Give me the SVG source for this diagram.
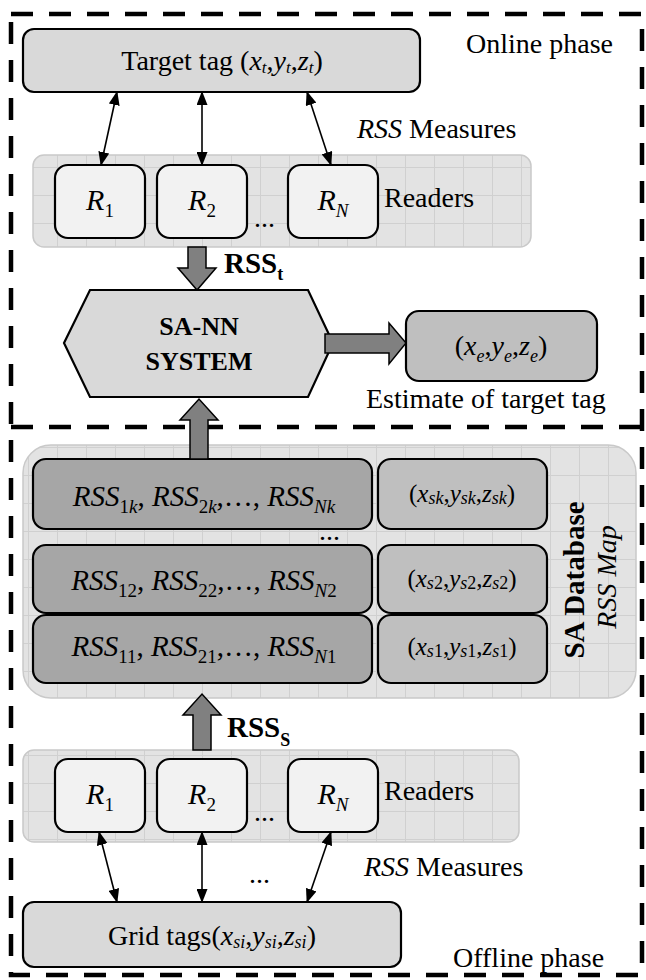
<svg xmlns="http://www.w3.org/2000/svg" width="646" height="980" viewBox="0 0 646 980" font-family="'Liberation Serif', 'Times New Roman', serif">
<style>
text{font-family:'Liberation Serif','Times New Roman',serif;fill:#000}
.lbl{font-size:28px}
.it{font-style:italic}
.b{font-weight:bold}
.box{stroke:#000;stroke-width:2.2}
.panel{fill:url(#grid);stroke:#c9c9c9;stroke-width:1.5}
.blk{fill:#808080;stroke:#000;stroke-width:1.5}
.thin{stroke:#000;stroke-width:1.6;fill:none;marker-start:url(#ah);marker-end:url(#ah)}
.frame{fill:none;stroke:#000;stroke-width:4.5;stroke-dasharray:22 16}
.rl{font-size:30px}
.row{font-size:29px}
.xy{font-size:25px}
</style>
<defs>
<pattern id="grid" x="0" y="0" width="29" height="28" patternUnits="userSpaceOnUse">
<rect width="29" height="28" fill="#e3e3e3"/>
<path d="M28.5 0V28M0 27.5H29" stroke="#d0d0d0" stroke-width="1"/>
</pattern>
<marker id="ah" viewBox="0 0 14 11" refX="13" refY="5.5" markerWidth="14" markerHeight="11" markerUnits="userSpaceOnUse" orient="auto-start-reverse">
<path d="M0 0L14 5.5L0 11z" fill="#000"/>
</marker>
</defs>

<g id="frame">
<rect class="frame" x="11" y="14" width="631" height="961"/>
<line class="frame" x1="11" y1="427" x2="642" y2="427"/>
<text class="lbl" x="466" y="53">Online phase</text>
<text class="lbl" x="453" y="967">Offline phase</text>
</g>

<g id="target-tag">
<rect class="box" x="23" y="29" width="397" height="63" rx="11" fill="#d9d9d9"/>
<text class="lbl" x="222" y="70" text-anchor="middle">Target tag (<tspan class="it">x</tspan><tspan class="it" font-size="17" dy="3">t</tspan><tspan dy="-3">,</tspan><tspan class="it">y</tspan><tspan class="it" font-size="17" dy="3">t</tspan><tspan dy="-3">,</tspan><tspan class="it">z</tspan><tspan class="it" font-size="17" dy="3">t</tspan><tspan dy="-3">)</tspan></text>
</g>

<g id="readers-online">
<rect class="panel" x="33" y="155" width="498" height="92" rx="11"/>
<g id="r1-on"><rect class="box" x="55" y="165" width="90" height="73" rx="13" fill="#f2f2f2"/>
<text class="rl" x="100" y="210" text-anchor="middle"><tspan class="it">R</tspan><tspan font-size="19" dy="7">1</tspan></text></g>
<g id="r2-on"><rect class="box" x="157" y="165" width="90" height="73" rx="13" fill="#f2f2f2"/>
<text class="rl" x="202" y="210" text-anchor="middle"><tspan class="it">R</tspan><tspan font-size="19" dy="7">2</tspan></text></g>
<text class="lbl" x="254" y="227">...</text>
<g id="rn-on"><rect class="box" x="288" y="165" width="90" height="73" rx="13" fill="#f2f2f2"/>
<text class="rl" x="333" y="210" text-anchor="middle"><tspan class="it">R</tspan><tspan class="it" font-size="19" dy="7">N</tspan></text></g>
<text class="lbl" x="384" y="207">Readers</text>
</g>

<g id="sann">
<polygon class="box" points="90,290 308,290 333,343 308,397 90,397 64,343" fill="#d9d9d9"/>
<text class="b" x="199" y="335" text-anchor="middle" font-size="26">SA-NN</text>
<text class="b" x="199" y="370" text-anchor="middle" font-size="26">SYSTEM</text>
</g>

<g id="estimate">
<rect class="box" x="406" y="311" width="191" height="70" rx="13" fill="#bfbfbf"/>
<text x="501" y="355" text-anchor="middle" font-size="28">(<tspan class="it">x</tspan><tspan class="it" font-size="18" dy="7">e</tspan><tspan dy="-7">,</tspan><tspan class="it">y</tspan><tspan class="it" font-size="18" dy="7">e</tspan><tspan dy="-7">,</tspan><tspan class="it">z</tspan><tspan class="it" font-size="18" dy="7">e</tspan><tspan dy="-7">)</tspan></text>
<text class="lbl" x="366" y="408">Estimate of target tag</text>
</g>

<g id="sa-database">
<rect class="panel" x="23" y="445" width="613" height="253" rx="28"/>
<g id="row-k">
<rect class="box" x="33" y="459" width="339" height="70" rx="13" fill="#a6a6a6"/>
<text class="row" x="204" y="506" text-anchor="middle"><tspan class="it">RSS</tspan><tspan font-size="19" dy="7">1<tspan class="it">k</tspan></tspan><tspan dy="-7">, </tspan><tspan class="it">RSS</tspan><tspan font-size="19" dy="7">2<tspan class="it">k</tspan></tspan><tspan dy="-7">,…, </tspan><tspan class="it">RSS</tspan><tspan class="it" font-size="19" dy="7">Nk</tspan></text>
<rect class="box" x="378" y="459" width="169" height="70" rx="13" fill="#bfbfbf"/>
<text class="xy" x="462" y="502" text-anchor="middle">(<tspan class="it">x</tspan><tspan class="it" font-size="18" dy="2">sk</tspan><tspan dy="-2">,</tspan><tspan class="it">y</tspan><tspan class="it" font-size="18" dy="2">sk</tspan><tspan dy="-2">,</tspan><tspan class="it">z</tspan><tspan class="it" font-size="18" dy="2">sk</tspan><tspan dy="-2">)</tspan></text>
</g>
<text class="lbl" x="319" y="540">...</text>
<g id="row-2">
<rect class="box" x="33" y="545" width="339" height="68" rx="13" fill="#a6a6a6"/>
<text class="row" x="204" y="590" text-anchor="middle"><tspan class="it">RSS</tspan><tspan font-size="19" dy="7">12</tspan><tspan dy="-7">, </tspan><tspan class="it">RSS</tspan><tspan font-size="19" dy="7">22</tspan><tspan dy="-7">,…, </tspan><tspan class="it">RSS</tspan><tspan font-size="19" dy="7"><tspan class="it">N</tspan>2</tspan></text>
<rect class="box" x="378" y="545" width="169" height="68" rx="13" fill="#bfbfbf"/>
<text class="xy" x="462" y="587" text-anchor="middle">(<tspan class="it">x</tspan><tspan font-size="18" dy="2"><tspan class="it">s</tspan>2</tspan><tspan dy="-2">,</tspan><tspan class="it">y</tspan><tspan font-size="18" dy="2"><tspan class="it">s</tspan>2</tspan><tspan dy="-2">,</tspan><tspan class="it">z</tspan><tspan font-size="18" dy="2"><tspan class="it">s</tspan>2</tspan><tspan dy="-2">)</tspan></text>
</g>
<g id="row-1">
<rect class="box" x="33" y="615" width="339" height="68" rx="13" fill="#a6a6a6"/>
<text class="row" x="204" y="656" text-anchor="middle"><tspan class="it">RSS</tspan><tspan font-size="19" dy="7">11</tspan><tspan dy="-7">, </tspan><tspan class="it">RSS</tspan><tspan font-size="19" dy="7">21</tspan><tspan dy="-7">,…, </tspan><tspan class="it">RSS</tspan><tspan font-size="19" dy="7"><tspan class="it">N</tspan>1</tspan></text>
<rect class="box" x="378" y="615" width="169" height="68" rx="13" fill="#bfbfbf"/>
<text class="xy" x="462" y="655" text-anchor="middle">(<tspan class="it">x</tspan><tspan font-size="18" dy="2"><tspan class="it">s</tspan>1</tspan><tspan dy="-2">,</tspan><tspan class="it">y</tspan><tspan font-size="18" dy="2"><tspan class="it">s</tspan>1</tspan><tspan dy="-2">,</tspan><tspan class="it">z</tspan><tspan font-size="18" dy="2"><tspan class="it">s</tspan>1</tspan><tspan dy="-2">)</tspan></text>
</g>
<text class="b" transform="translate(584,580) rotate(-90)" text-anchor="middle" font-size="29">SA Database</text>
<text class="it" transform="translate(616,577) rotate(-90)" text-anchor="middle" font-size="28">RSS Map</text>
</g>

<g id="readers-offline">
<rect class="panel" x="23" y="750" width="496" height="92" rx="11"/>
<g id="r1-off"><rect class="box" x="55" y="759" width="90" height="73" rx="13" fill="#f2f2f2"/>
<text class="rl" x="100" y="804" text-anchor="middle"><tspan class="it">R</tspan><tspan font-size="19" dy="7">1</tspan></text></g>
<g id="r2-off"><rect class="box" x="157" y="759" width="90" height="73" rx="13" fill="#f2f2f2"/>
<text class="rl" x="202" y="804" text-anchor="middle"><tspan class="it">R</tspan><tspan font-size="19" dy="7">2</tspan></text></g>
<text class="lbl" x="254" y="821">...</text>
<g id="rn-off"><rect class="box" x="288" y="759" width="90" height="73" rx="13" fill="#f2f2f2"/>
<text class="rl" x="333" y="804" text-anchor="middle"><tspan class="it">R</tspan><tspan class="it" font-size="19" dy="7">N</tspan></text></g>
<text class="lbl" x="384" y="800">Readers</text>
</g>

<g id="grid-tags">
<rect class="box" x="23" y="902" width="378" height="65" rx="11" fill="#d9d9d9"/>
<text class="lbl" x="212" y="945" text-anchor="middle">Grid tags(<tspan class="it">x</tspan><tspan class="it" font-size="18" dy="3">si</tspan><tspan dy="-3">,</tspan><tspan class="it">y</tspan><tspan class="it" font-size="18" dy="3">si</tspan><tspan dy="-3">,</tspan><tspan class="it">z</tspan><tspan class="it" font-size="18" dy="3">si</tspan><tspan dy="-3">)</tspan></text>
</g>

<g id="connectors">
<line class="thin" x1="101" y1="165" x2="117" y2="92"/>
<line class="thin" x1="202" y1="165" x2="202" y2="92"/>
<line class="thin" x1="331" y1="165" x2="307" y2="92"/>
<text class="lbl" x="357" y="138"><tspan class="it">RSS</tspan> Measures</text>
<polygon class="blk" points="188,247 206,247 206,268 216,268 197,290 178,268 188,268"/>
<text class="b" x="224" y="273" font-size="29">RSS<tspan font-size="18" dy="7">t</tspan></text>
<polygon class="blk" points="325,334 389,334 389,323 406,343 389,364 389,353 325,353"/>
<polygon class="blk" points="190,459 208,459 208,420 218,420 199,399 180,420 190,420"/>
<polygon class="blk" points="193,750 211,750 211,715 221,715 202,694 183,715 193,715"/>
<text class="b" x="227" y="737" font-size="29">RSS<tspan font-size="18" dy="9">S</tspan></text>
<line class="thin" x1="99" y1="832" x2="117" y2="902"/>
<line class="thin" x1="202" y1="832" x2="202" y2="902"/>
<line class="thin" x1="331" y1="832" x2="307" y2="902"/>
<text class="lbl" x="249" y="883">...</text>
<text class="lbl" x="364" y="876"><tspan class="it">RSS</tspan> Measures</text>
</g>
</svg>
